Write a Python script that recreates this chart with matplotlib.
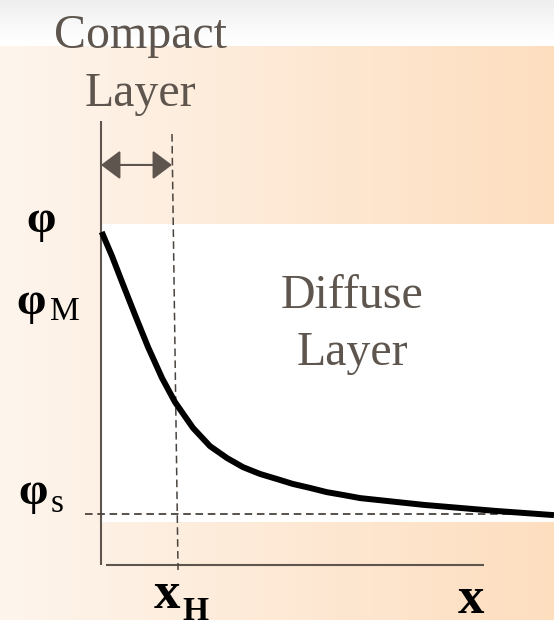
import numpy as np
import matplotlib
matplotlib.use("Agg")
import matplotlib.pyplot as plt

# potential profile phi(x), x in units of x_H, phi scaled so phi(0)=1, phi_s=0
dist = [0.01, 0.155, 0.296, 0.479, 0.662, 0.859, 1.042, 1.296, 1.535, 1.775,
        2.0, 2.24, 2.48, 2.70, 2.94, 3.18, 3.41, 3.65, 4.55, 5.55, 6.38]
phi = [0.993, 0.908, 0.817, 0.701, 0.588, 0.479, 0.394, 0.303, 0.239, 0.197,
       0.165, 0.141, 0.123, 0.106, 0.092, 0.077, 0.067, 0.056, 0.032, 0.011,
       -0.004]
x_H = 1.0
phi_s = 0.0

W, H = 554, 620
PX = 71.0    # pixels per x unit
PY = 284.0   # pixels per phi unit
OX, OY = 101, 514   # pixel position of (0, phi_s)

INK = "#5e564e"
DASH = "#4a443e"

fig = plt.figure(figsize=(W / 100, H / 100), dpi=100)
ax = fig.add_axes([0, 0, 1, 1])
xlim = (-OX / PX, (W - OX) / PX)
ylim = ((OY - H) / PY, OY / PY)
ax.set_xlim(*xlim)
ax.set_ylim(*ylim)
ax.axis("off")

# background: peach gradient, grey-white top band, white plot panel
t = np.linspace(0, 1, W)[None, :, None]
left = np.array([254, 245, 237]) / 255
right = np.array([253, 222, 191]) / 255
bg = np.repeat(left + (right - left) * t, H, axis=0)
yy = np.arange(46)[:, None, None]
top = 0.935 + (1 - 0.935) * np.clip(yy / 40, 0, 1)
bg[:46] = np.broadcast_to(top, (46, W, 1)) * np.ones(3)
bg[224:522, 100:] = 1.0
ax.imshow(bg, extent=(*xlim, *ylim), aspect="auto", zorder=0, interpolation="nearest")

# axes lines
ax.plot([0, 0], [(OY - 121) / PY, (OY - 565) / PY], color=INK, lw=1.5, zorder=2,
        solid_capstyle="butt")
ax.plot([0.07, 5.39], [(OY - 565) / PY] * 2, color=INK, lw=1.5, zorder=2,
        solid_capstyle="butt")

# dashed guides
ax.plot([x_H, x_H + 0.085], [1.338, -0.197], color=DASH, lw=1.1,
        linestyle=(0, (5, 2.8)), zorder=2)
ax.plot([-0.225, xlim[1]], [phi_s, phi_s], color=DASH, lw=1.3,
        linestyle=(0, (4.2, 2.6)), zorder=2)

# compact layer arrow
ax.annotate("", xy=(x_H, 1.229), xytext=(0, 1.229),
            arrowprops=dict(arrowstyle="<|-|>,head_length=0.6,head_width=0.45",
                            mutation_scale=20, color=INK, lw=1.5,
                            shrinkA=0, shrinkB=0), zorder=3)

# curve
ax.plot(dist, phi, color="black", lw=4.3, zorder=4, solid_capstyle="butt",
        solid_joinstyle="round")

serif = "Liberation Serif"
ax.text(0.55, 1.641, "Compact", family=serif, fontsize=34.5, color=INK,
        ha="center", va="baseline")
ax.text(0.55, 1.437, "Layer", family=serif, fontsize=34.5, color=INK,
        ha="center", va="baseline")
ax.text(3.535, 0.725, "Diffuse", family=serif, fontsize=34.5, color=INK,
        ha="center", va="baseline")
ax.text(3.535, 0.525, "Layer", family=serif, fontsize=34.5, color=INK,
        ha="center", va="baseline")

# symbols
ax.text(-0.845, (OY - 232) / PY, "φ", family=serif, weight="bold", fontsize=34,
        ha="center", va="baseline")
ax.text((16 - OX) / PX, (OY - 314) / PY, "φ", family=serif, weight="bold",
        fontsize=34, ha="left", va="baseline")
ax.text((50 - OX) / PX, (OY - 320) / PY, "M", family=serif, fontsize=24,
        ha="left", va="baseline")
ax.text((18 - OX) / PX, (OY - 504) / PY, "φ", family=serif, weight="bold",
        fontsize=34, ha="left", va="baseline")
ax.text((51 - OX) / PX, (OY - 512) / PY, "s", family=serif, fontsize=24,
        ha="left", va="baseline")
ax.text((154 - OX) / PX, (OY - 608) / PY, "x", family=serif, weight="bold",
        fontsize=38, ha="left", va="baseline")
ax.text((182 - OX) / PX, (OY - 620) / PY, "H", family=serif, weight="bold",
        fontsize=24, ha="left", va="baseline")
ax.text((471 - OX) / PX, (OY - 613) / PY, "x", family=serif, weight="bold",
        fontsize=38, ha="center", va="baseline")

fig.savefig("out.png", dpi=100)
